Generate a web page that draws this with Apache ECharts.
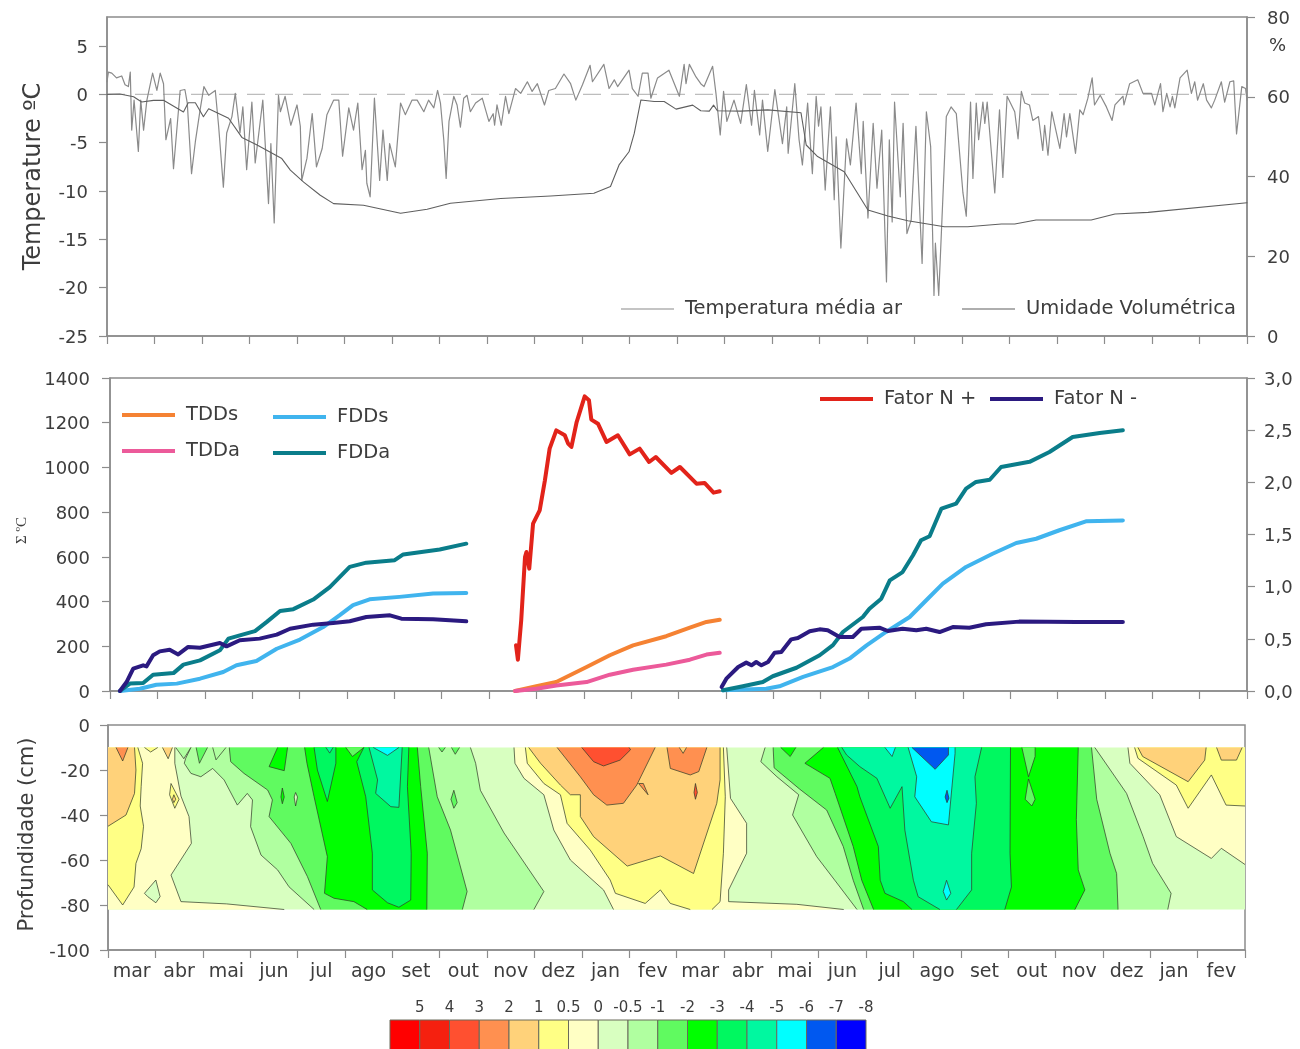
<!DOCTYPE html>
<html><head><meta charset="utf-8">
<script src="https://cdn.jsdelivr.net/npm/echarts@6/dist/echarts.min.js"></script>
<style>html,body{margin:0;padding:0;background:#fff;overflow:hidden}#c{width:1300px;height:1049px}</style>
</head><body><div id="c"></div>
<script>
const months=['mar','abr','mai','jun','jul','ago','set','out','nov','dez','jan','fev','mar','abr','mai','jun','jul','ago','set','out','nov','dez','jan','fev'];
// x of all series = months since start of record
const tempAr=[[0,1.3],[.03,2.3],[.1,2.2],[.2,1.7],[.31,1.9],[.38,1],[.45,.8],[.49,2.3],[.52,-3.7],[.57,-.6],[.66,-5.9],[.71,-.6],[.77,-3.7],[.84,-.6],[.96,2.2],[1.05,.4],[1.12,2.2],[1.19,1.1],[1.24,-4.7],[1.34,-2.5],[1.4,-7.7],[1.54,.4],[1.64,.5],[1.69,-.9],[1.78,-8.2],[1.86,-4.9],[1.96,-1.6],[2.04,.8],[2.14,-.1],[2.28,.4],[2.35,-3.3],[2.45,-9.6],[2.52,-4],[2.63,-2.3],[2.7,.1],[2.8,-4],[2.86,-1.3],[2.94,-7.8],[3.05,-.8],[3.12,-7.1],[3.28,-.6],[3.4,-11.3],[3.45,-5.1],[3.52,-13.3],[3.61,-.1],[3.65,-1.8],[3.75,-.2],[3.87,-3.2],[4,-1.1],[4.07,-3.3],[4.1,-8.9],[4.21,-6.6],[4.32,-2],[4.41,-7.5],[4.53,-5.6],[4.63,-2.1],[4.77,-.6],[4.88,-.6],[4.96,-6.4],[5.09,-1.4],[5.19,-3.7],[5.28,-.9],[5.37,-7.8],[5.44,-5.8],[5.47,-9.2],[5.54,-10.6],[5.63,-.4],[5.74,-8.9],[5.81,-3.7],[5.9,-8.9],[5.95,-5.1],[6.07,-7.5],[6.18,-.9],
[6.28,-2.1],[6.42,-.6],[6.53,-.6],[6.67,-1.8],[6.77,-.6],[6.88,-1.4],[6.96,.4],[7.02,-.9],[7.09,-4.7],[7.14,-8.7],[7.2,-2.8],[7.3,-.2],[7.37,-1.1],[7.44,-3.4],[7.51,-.4],[7.58,-.1],[7.65,-1.8],[7.76,-.9],[7.9,-.4],[8.04,-2.8],[8.13,-2],[8.16,-3.2],[8.21,-1.1],[8.3,-3.2],[8.39,-.2],[8.46,-2],[8.6,.6],[8.71,.1],[8.85,1.3],[8.95,.3],[9.06,1.1],[9.21,-1.1],[9.3,.4],[9.44,.6],[9.62,2.1],[9.76,1.1],[9.87,-.6],[10.01,1],[10.17,3],[10.22,1.3],[10.46,3.1],[10.57,.6],[10.68,1.5],[10.75,.8],[10.99,2.5],[11.06,.6],[11.18,-.2],[11.27,2.2],[11.39,2.2],[11.45,-.4],[11.59,1.7],[11.83,2.5],[12.05,-.2],[12.15,3.1],[12.19,1.1],[12.26,3.1],[12.4,1.8],[12.5,1.1],
[12.57,.8],[12.75,2.9],[12.82,.1],[12.91,-4.2],[12.98,.3],[13.05,-2.8],[13.2,-.6],[13.34,-3],[13.46,1],[13.57,-3.2],[13.63,.4],[13.74,-4.2],[13.8,-.6],[13.91,-5.9],[14.06,.5],[14.22,-5.1],[14.31,-1.3],[14.34,-6.1],[14.48,1.1],[14.57,-4.7],[14.64,-7.3],[14.75,-.9],[14.85,-8.2],[14.93,-.2],[14.98,-3.3],[15.03,-1.3],[15.12,-9.9],[15.23,-1.3],[15.31,-10.9],[15.35,-4.4],[15.45,-15.9],[15.57,-4.6],[15.65,-7.3],[15.77,-.9],[15.88,-8.2],[15.92,-2.8],[16.02,-12.8],[16.13,-3],[16.21,-9.7],[16.31,-3.7],[16.41,-19.4],[16.47,-4.7],[16.53,-13.2],[16.58,-.8],[16.7,-10.6],[16.76,-3],[16.84,-14.4],[16.93,-13],[17.03,-3.3],[17.16,-17.5],[17.25,-1.8],[17.34,-5.4],[17.41,-20.8],[17.44,-15.4],[17.51,-20.8],[17.67,-2.3],[17.77,-1.3],[17.88,-2],[18.02,-10.2],[18.09,-12.6],[18.18,-.8],[18.23,-8.7],[18.3,-.9],[18.35,-4.7],[18.44,-.8],[18.48,-3],[18.53,-.8],[18.69,-10.2],[18.79,-1.6],
[18.86,-8.6],[18.95,-.2],[19.11,-1.8],[19.18,-4.6],[19.25,.3],[19.32,-.9],[19.42,-1.1],[19.49,-2.7],[19.61,-2.3],[19.7,-5.8],[19.74,-3.2],[19.81,-6.3],[19.89,-1.8],[20.06,-5.6],[20.15,-2],[20.2,-4.4],[20.27,-2],[20.39,-6.1],[20.48,-1.6],[20.55,-2.1],[20.65,-.4],[20.74,1.7],[20.79,-1.1],[20.91,-.1],[21.04,-1.3],[21.16,-2.7],[21.22,-1.1],[21.39,-.2],[21.41,-1.1],[21.53,1.1],[21.7,1.5],[21.81,.1],[21.99,.1],[22.06,-1.1],[22.18,1.1],[22.23,-1.8],[22.31,.1],[22.38,-1.3],[22.43,-.2],[22.48,-1.4],[22.59,1.7],[22.74,2.5],[22.83,.1],[22.9,1.3],[22.96,-.6],[23.08,1.1],[23.15,-.6],[23.25,-1.4],[23.32,-.6],[23.46,1.3],[23.53,-.8],[23.64,1.3],[23.72,1.4],[23.78,-4.1],[23.89,.8],[23.97,.6],[24,-.6]];
const umidade=[[0,60.6],[.27,60.7],[.56,60],[.73,58.7],[.98,59.1],[1.19,59.1],[1.61,56.2],[1.71,58.5],[1.86,58.5],[2.03,55],[2.14,57],[2.56,54.6],[2.84,49.8],[3.16,47.9],[3.68,44.5],[3.86,41.6],[4.14,38.6],[4.49,35.3],[4.77,33.2],[5.4,32.8],[6.18,30.8],[6.74,31.8],[7.23,33.3],[8.29,34.5],[9.34,35.1],[10.25,35.8],[10.6,37.5],[10.78,42.9],[10.99,46.2],[11.1,50.8],[11.24,59.2],[11.52,58.8],[11.73,58.8],[11.98,56.9],[12.33,57.9],[12.5,56.5],[12.68,56.4],[12.77,57.9],[12.85,56.5],[13.34,56.4],[13.91,56.7],[14.61,56],[14.72,47.9],[14.96,45],[15.52,41.2],[16.02,31.6],[16.44,30.1],[16.86,28.9],[17.63,27.4],[18.12,27.4],[18.83,28.1],[19.11,28.1],[19.56,29.1],[20.72,29.1],[21.22,30.6],[21.92,31],[24,33.4]];
const zeroLine=[[0,0],[24,0]];

const fddaAno1=[[.21,0],[.42,33],[.7,36],[.91,73],[1.34,80],[1.55,118],[1.9,137],[2.32,182],[2.5,234],[2.74,249],[3.06,268],[3.31,309],[3.59,358],[3.87,366],[4.29,409],[4.64,465],[5.06,555],[5.41,574],[6.01,585],[6.19,611],[6.96,633],[7.52,659]];
const fddsAno1=[[.21,0],[.63,10],[.98,28],[1.41,33],[1.9,55],[2.39,85],[2.67,115],[3.09,134],[3.52,189],[4.01,230],[4.5,286],[4.85,339],[5.13,384],[5.48,410],[6.11,421],[6.82,436],[7.52,438]];
const fatorNegAno1=[[.21,0],[.35,.086],[.49,.214],[.7,.246],[.77,.236],[.91,.342],[1.05,.38],[1.26,.396],[1.44,.351],[1.65,.422],[1.9,.415],[2.32,.46],[2.46,.428],[2.74,.486],[3.16,.502],[3.52,.54],[3.8,.597],[4.29,.636],[4.71,.652],[5.06,.668],[5.41,.709],[5.91,.725],[6.15,.693],[6.82,.687],[7.52,.668]];
const fatorPos=[[8.57,.438],[8.61,.3],[8.65,.518],[8.68,.677],[8.76,1.284],[8.79,1.332],[8.85,1.173],[8.93,1.604],[9.07,1.732],[9.18,2.019],[9.28,2.323],[9.42,2.498],[9.6,2.451],[9.67,2.371],[9.74,2.339],[9.85,2.578],[10.02,2.824],[10.11,2.786],[10.16,2.601],[10.3,2.562],[10.48,2.387],[10.72,2.451],[10.97,2.268],[11.18,2.323],[11.38,2.195],[11.52,2.243],[11.85,2.09],[12.03,2.147],[12.38,1.987],[12.55,1.994],[12.74,1.901],[12.87,1.914]];
const tdds=[[8.55,0],[9,21],[9.42,40],[10.06,107],[10.55,160],[11.04,204],[11.74,245],[12.24,283],[12.59,309],[12.87,319]];
const tdda=[[8.55,0],[9,10],[9.42,25],[10.06,40],[10.55,73],[11.04,95],[11.74,118],[12.24,140],[12.59,163],[12.87,171]];
const fddaAno2=[[12.94,3],[13.36,21],[13.78,40],[13.99,66],[14.49,104],[14.98,160],[15.26,205],[15.47,264],[15.89,331],[16.03,368],[16.28,413],[16.46,495],[16.73,532],[16.95,607],[17.12,674],[17.3,692],[17.55,816],[17.86,838],[18.07,905],[18.28,935],[18.57,945],[18.81,1002],[19.41,1025],[19.83,1069],[20.32,1136],[20.89,1154],[21.38,1166]];
const fddsAno2=[[12.94,3],[13.85,10],[14.13,21],[14.63,63],[15.26,107],[15.61,145],[15.97,204],[16.38,264],[16.88,331],[17.23,406],[17.58,480],[18.07,555],[18.63,614],[19.13,662],[19.55,681],[20.04,719],[20.6,759],[21.38,763]];
const fatorNegAno2=[[12.91,.038],[13.01,.118],[13.26,.23],[13.43,.272],[13.54,.246],[13.64,.278],[13.75,.246],[13.89,.278],[14.03,.367],[14.17,.374],[14.38,.495],[14.52,.508],[14.77,.572],[14.98,.591],[15.15,.582],[15.4,.518],[15.68,.518],[15.86,.597],[16.24,.607],[16.42,.575],[16.73,.597],[17.02,.582],[17.23,.597],[17.51,.565],[17.79,.613],[18.14,.607],[18.49,.639],[19.19,.665],[20.39,.661],[21.38,.661]];

const scaleLabels=['5','4','3','2','1','0.5','0','-0.5','-1','-2','-3','-4','-5','-6','-7','-8'];
const scaleColors=['#ff0000','#f5200f','#ff5030','#ff9050','#ffd27a','#ffff85','#ffffc4','#d8ffc0','#b0ffa0','#60fa60','#00ff00','#00f860','#00f8a0','#00ffff','#0058f0','#0000ff'];

// contour regions: [month, depth] outlines; depth band of the data is -10 .. -82
const fundo=[[0,-10],[24,-10],[24,-82],[0,-82]];
const p1Gt0=[[0,-10],[1.41,-10],[1.41,-17],[1.54,-31.6],[1.71,-40.7],[1.76,-52.6],[1.33,-66.7],[1.54,-78.5],[2.5,-79.5],[3.72,-82],[0,-82]];
const p1Gt05=[[0,-10],[.63,-10],[.73,-17],[.7,-27.4],[.68,-36],[.75,-45],[.7,-55],[.59,-61.5],[.55,-72],[.31,-80],[0,-71]];
const p1Gt1=[[0,-10],[.56,-10],[.59,-20],[.56,-30.4],[.38,-40],[0,-45]];
const p1Gt2=[[.17,-10],[.31,-16],[.42,-10]];
const p1Ilha=[[.77,-74.8],[1.01,-68.9],[1.1,-76.3],[1.01,-79],[.84,-76.3]];
const p1Diam=[[1.33,-26],[1.5,-33],[1.41,-37],[1.3,-31]];
const p1Diam2=[[1.39,-31],[1.43,-33],[1.39,-34.5],[1.36,-33]];
const p1Topo1=[[.77,-10],[.9,-12],[1.05,-10]];
const p1Topo2=[[1.15,-10],[1.27,-15],[1.36,-10]];
const p1Topo3=[[1.43,-10],[1.6,-15],[1.75,-10]];
const w1Lt05=[[1.75,-10],[1.64,-14.8],[1.61,-17],[1.75,-21.5],[1.96,-23],[2.21,-19.3],[2.45,-24.4],[2.73,-35.6],[2.94,-30.4],[3.05,-33.3],[3.01,-45.2],[3.23,-57.8],[3.58,-64.4],[3.82,-71.9],[4.35,-82],[8.99,-82],[9.2,-74],[8.36,-48],[7.86,-29],[7.76,-17],[7.65,-10]];
const w1Lt1=[[2.56,-10],[2.59,-16.3],[2.87,-21.5],[3.37,-28.9],[3.47,-33.3],[3.4,-40.7],[3.86,-52.6],[4.21,-67.4],[4.49,-82],[7.48,-82],[7.58,-74],[7.23,-46.7],[6.95,-31.9],[6.77,-10]];
const w1Bolha1=[[1.86,-10],[1.93,-17],[2.1,-10]];
const w1Bolha2=[[2.21,-10],[2.28,-15.5],[2.49,-10]];
const w1Bolha3=[[3.58,-10],[3.4,-18.5],[3.72,-20.3],[3.79,-10]];
const w1Bolha4=[[7.3,-29],[7.37,-34.5],[7.3,-37],[7.24,-33]];
const w1Bolha5=[[7.25,-10],[7.33,-13],[7.42,-10]];
const w1Bolha6=[[6.98,-10],[7.05,-12],[7.12,-10]];
const w1Ponto1=[[3.68,-28],[3.72,-32],[3.68,-35],[3.65,-32]];
const w1Ponto2=[[3.96,-30],[4,-32],[3.96,-36],[3.93,-32]];
const w1Lt2=[[4.15,-10],[4.2,-17],[4.35,-31.9],[4.63,-58.5],[4.57,-74.8],[4.77,-77],[5.19,-78.5],[5.47,-82],[6.73,-82],[6.74,-57],[6.6,-27.4],[6.53,-10]];
const w1Lt3a=[[4.35,-10],[4.42,-20],[4.63,-34],[4.81,-17],[4.81,-10]];
const w1Lt3b=[[5.4,-10],[5.25,-16.3],[5.44,-31.9],[5.58,-57],[5.58,-73.3],[5.9,-79],[6.14,-81],[6.39,-77.8],[6.4,-57],[6.32,-27.4],[6.35,-10]];
const w1Lt4a=[[4.6,-10],[4.68,-12.5],[4.75,-10]];
const w1Lt3c=[[5.02,-10],[5.16,-14],[5.4,-10]];
const w1Lt4b=[[5.51,-10],[5.69,-24.4],[5.65,-30.4],[5.97,-36.3],[6.14,-36.6],[6.21,-10]];
const w1Lt5=[[5.6,-10],[5.9,-13.5],[6.14,-10]];
const s1Gt0=[[8.57,-10],[8.59,-17],[8.78,-23.7],[9.2,-31],[9.41,-46.7],[9.76,-60],[10.46,-73.3],[10.67,-82],[15.53,-82],[14.54,-79.7],[13.1,-78.5],[13.1,-73.3],[13.48,-57],[13.48,-43.7],[13.14,-32.6],[13.06,-10]];
const s1Gt05=[[8.81,-10],[8.85,-17],[9.2,-26],[9.55,-31],[9.69,-43.7],[10.18,-55.6],[10.6,-68.9],[10.71,-74.8],[11.34,-79.3],[11.66,-73.3],[11.87,-79.3],[12.29,-82],[12.75,-82],[12.92,-78.5],[12.99,-57],[13.03,-31.9],[12.99,-10]];
const s1Gt1=[[8.88,-10],[9.13,-17],[9.55,-26.7],[9.76,-31],[9.97,-31],[9.97,-40.7],[10.25,-49.6],[10.96,-62.7],[11.66,-58.2],[12.36,-66],[12.85,-34.8],[12.92,-24.4],[12.92,-10]];
const s1Gt2a=[[9.48,-10],[9.97,-23],[10.25,-31],[10.53,-35.6],[10.88,-34.8],[11.16,-26.7],[11.55,-10]];
const s1Gt2b=[[11.8,-10],[11.87,-19.3],[12.29,-22.2],[12.47,-20.7],[12.64,-10]];
const s1Gt1b=[[12.06,-10],[12.14,-12.6],[12.21,-10]];
const s1Cauda=[[11.2,-26],[11.4,-31],[11.3,-26]];
const s1Traco=[[12.4,-26],[12.44,-30],[12.4,-33],[12.37,-30]];
const s1Gt3=[[10,-10],[10.25,-16.3],[10.46,-18.2],[10.81,-15.6],[11.03,-11],[11,-10]];
const w2Lt05=[[13.87,-10],[13.78,-16.3],[14.12,-23],[14.58,-31],[14.45,-40],[14.96,-58.5],[15.45,-72],[15.81,-82],[22.37,-82],[22.44,-74.8],[22.05,-61.5],[21.85,-49.6],[21.5,-30.4],[20.83,-10]];
const w2Lt1=[[14.04,-10],[14.06,-19],[14.6,-28.5],[15.17,-37.8],[15.52,-54],[15.73,-69],[15.95,-82],[21.32,-82],[21.29,-66],[21.15,-57],[20.87,-33],[20.76,-10]];
const w2Bolha=[[14.2,-10],[14.4,-14],[14.52,-10]];
const w2Lt2=[[15.1,-10],[14.71,-17],[15.24,-23.7],[15.35,-30.4],[15.73,-54],[15.91,-69],[16.16,-82],[20.41,-82],[20.62,-73.3],[20.48,-64.4],[20.44,-42],[20.48,-10]];
const w2Claro1=[[19.29,-10],[19.43,-23],[19.57,-14],[19.57,-10]];
const w2Claro2=[[19.43,-24],[19.57,-33],[19.5,-36],[19.36,-33]];
const w2Lt3=[[15.4,-10],[15.81,-27.4],[15.87,-31.9],[16.26,-54],[16.3,-69],[16.4,-74.8],[16.79,-78.5],[16.97,-82],[18.93,-82],[19.07,-72],[19.04,-57],[19.05,-10]];
const w2Lt4=[[15.49,-10],[15.59,-13.3],[15.87,-18.5],[16.23,-23.7],[16.51,-37],[16.76,-27.4],[16.82,-46.7],[17,-69],[17.1,-76.3],[17.56,-82],[17.91,-82],[18.23,-73.3],[18.23,-57],[18.33,-34.8],[18.3,-23],[18.44,-10]];
const w2Lt5a=[[16.89,-10],[17.07,-23],[17.03,-31.9],[17.38,-43],[17.74,-44.4],[17.88,-12.6],[17.88,-10]];
const w2Lt5b=[[16.4,-10],[16.55,-14],[16.62,-10]];
const w2Lt5c=[[17.7,-69],[17.79,-74.8],[17.7,-77.8],[17.63,-74]];
const w2Lt6=[[16.97,-10],[17.46,-19.7],[17.74,-13.3],[17.74,-10]];
const w2Ponto=[[17.71,-29],[17.75,-32.5],[17.71,-34.5],[17.67,-32]];
const s2Gt0=[[21.53,-10],[21.57,-17],[22.2,-31],[22.55,-49.6],[23.29,-59.3],[23.5,-54.8],[24,-62],[24,-10]];
const s2Gt05=[[21.67,-10],[21.74,-14.8],[22.55,-26.7],[22.8,-37],[23.29,-22.2],[23.6,-35.6],[24,-36],[24,-10]];
const s2Gt1a=[[21.74,-10],[21.84,-14],[22.8,-25.2],[23.15,-15.6],[23.18,-10]];
const s2Gt1b=[[23.4,-10],[23.5,-15.6],[23.82,-15.6],[23.94,-10]];
// [colour-scale class, region], painted in order, outer regions first
const contourBands=[[7,fundo],[6,p1Gt0],[5,p1Gt05],[4,p1Gt1],[3,p1Gt2],[7,p1Ilha],[5,p1Diam],[4,p1Diam2],[5,p1Topo1],[4,p1Topo2],[8,p1Topo3],
[8,w1Lt05],[9,w1Lt1],[9,w1Bolha1],[8,w1Bolha2],[10,w1Bolha3],[9,w1Bolha4],[9,w1Bolha5],[9,w1Bolha6],[10,w1Ponto1],[7,w1Ponto2],[10,w1Lt2],[11,w1Lt3a],[11,w1Lt3b],[12,w1Lt4a],[9,w1Lt3c],[12,w1Lt4b],[13,w1Lt5],
[6,s1Gt0],[5,s1Gt05],[4,s1Gt1],[3,s1Gt2a],[3,s1Gt2b],[4,s1Gt1b],[3,s1Cauda],[2,s1Traco],[2,s1Gt3],
[8,w2Lt05],[9,w2Lt1],[10,w2Bolha],[10,w2Lt2],[9,w2Claro1],[9,w2Claro2],[11,w2Lt3],[12,w2Lt4],[13,w2Lt5a],[13,w2Lt5b],[13,w2Lt5c],[14,w2Lt6],[14,w2Ponto],
[6,s2Gt0],[5,s2Gt05],[4,s2Gt1a],[4,s2Gt1b]];

const FONT='"DejaVu Sans",sans-serif', TXT='#3d3d3d', AX='#8c8c8c';
const onEdge=(a,b)=>(a[1]===b[1]&&(a[1]===-10||a[1]===-82))||(a[0]===b[0]&&(a[0]===0||a[0]===24));
function renderBand(params,api){
  const [level,pts]=contourBands[params.dataIndex];
  const children=[{type:'polygon',shape:{points:pts.map(p=>api.coord(p))},style:{fill:scaleColors[level],stroke:null},silent:true}];
  let run=[];
  const closed=pts.concat([pts[0]]);
  for(let i=0;i<closed.length;i++){
    if(i>0&&onEdge(closed[i-1],closed[i])){ if(run.length>1)children.push(mkLine(run,api)); run=[]; }
    run.push(closed[i]);
  }
  if(run.length>1)children.push(mkLine(run,api));
  return {type:'group',children};
}
function mkLine(run,api){return {type:'polyline',shape:{points:run.map(p=>api.coord(p))},style:{fill:null,stroke:'rgba(50,60,40,.72)',lineWidth:1},silent:true};}

const axLine={show:true,onZero:false,lineStyle:{color:AX,width:1.5}};
const tick={show:true,length:8,lineStyle:{color:AX,width:1.2}};
const fmt=f=>({formatter:v=>'{v|'+f(v)+'}',rich:{v:{color:TXT,fontFamily:FONT,fontSize:18,padding:[4,0,0,0]}}});
function catAxis(g,showLabel){return {type:'category',gridIndex:g,data:months,boundaryGap:true,axisLine:axLine,axisTick:Object.assign({alignWithLabel:false},tick),axisLabel:{show:showLabel,interval:0,margin:13,color:TXT,fontFamily:FONT,fontSize:19},splitLine:{show:false}};}
function valX(g){return {type:'value',gridIndex:g,min:0,max:24,show:false,splitLine:{show:false}};}
function line(name,data,x,y,color,w){return {type:'line',name,data,xAxisIndex:x,yAxisIndex:y,showSymbol:false,symbol:'none',smooth:false,sampling:null,silent:true,animation:false,itemStyle:{color},lineStyle:{color,width:w,join:'round',cap:'round'},z:3};}
function leg(name,left,top,h){return {data:[{name,icon:'rect'}],left,top,orient:'horizontal',selectedMode:false,itemWidth:53,itemHeight:h,textStyle:{color:TXT,fontFamily:FONT,fontSize:19.5,padding:[0,0,0,6]}};}
const LBAR=390, WCELL=29.75;
const scaleGraphics=[];
scaleColors.forEach((c,i)=>{
  scaleGraphics.push({type:'rect',shape:{x:LBAR+i*WCELL,y:1020,width:WCELL,height:40},style:{fill:c,stroke:'#6a6a5a',lineWidth:1},silent:true});
  scaleGraphics.push({type:'text',x:LBAR+(i+1)*WCELL,y:1008,style:{text:scaleLabels[i],fill:TXT,font:'15px '+FONT,textAlign:'center',textVerticalAlign:'middle'},silent:true});
});
const plain=v=>String(v);

const option={animation:false,backgroundColor:'#fff',
 grid:[
  {left:107,right:53,top:17,height:319,show:true,borderColor:AX,borderWidth:1.5},
  {left:110,right:53,top:378,height:313,show:true,borderColor:AX,borderWidth:1.5},
  {left:108,right:55,top:725,height:225,show:true,borderColor:AX,borderWidth:1.5}],
 xAxis:[catAxis(0,false),valX(0),catAxis(1,false),valX(1),catAxis(2,true),valX(2)],
 yAxis:[
  {type:'value',gridIndex:0,min:-25,max:8,interval:5,position:'left',name:'Temperature ºC',nameLocation:'middle',nameGap:61,nameTextStyle:{color:TXT,fontFamily:FONT,fontSize:24},axisLine:axLine,axisTick:tick,axisLabel:Object.assign({margin:19,showMaxLabel:false},fmt(plain)),splitLine:{show:false}},
  {type:'value',gridIndex:0,min:0,max:80,interval:20,position:'right',axisLine:axLine,axisTick:tick,axisLabel:Object.assign({margin:20},fmt(plain)),splitLine:{show:false}},
  {type:'value',gridIndex:1,min:0,max:1400,interval:200,position:'left',name:'Σ ºC',nameLocation:'middle',nameGap:80,nameTextStyle:{color:TXT,fontFamily:'"Liberation Serif",serif',fontSize:15,padding:[0,0,0,8]},axisLine:axLine,axisTick:tick,axisLabel:Object.assign({margin:20},fmt(plain)),splitLine:{show:false}},
  {type:'value',gridIndex:1,min:0,max:3,interval:.5,position:'right',axisLine:axLine,axisTick:tick,axisLabel:Object.assign({margin:17},fmt(v=>v.toFixed(1).replace('.',','))),splitLine:{show:false}},
  {type:'value',gridIndex:2,min:-100,max:0,interval:20,position:'left',name:'Profundidade (cm)',nameLocation:'middle',nameGap:62,nameTextStyle:{color:TXT,fontFamily:FONT,fontSize:21,padding:[0,0,0,6]},axisLine:axLine,axisTick:tick,axisLabel:Object.assign({margin:18},fmt(plain)),splitLine:{show:false}}],
 legend:[
  leg('Temperatura média ar',616,294,1),leg('Umidade Volumétrica',957,294,1),
  leg('TDDs',117,400,4),leg('TDDa',117,436,4),leg('FDDs',268,402,4),leg('FDDa',268,438,4),
  leg('Fator N +',815,384,4),leg('Fator N -',985,384,4)],
 series:[
  line('Zero',zeroLine,1,0,'#bdbdbd',1.4),
  line('Temperatura média ar',tempAr,1,0,'#8a8a8a',1.2),
  line('Umidade Volumétrica',umidade,1,1,'#5f5f5f',1.1),
  line('FDDs',fddsAno1,3,2,'#40b4ee',4),line('FDDa',fddaAno1,3,2,'#0a7d8a',4),line('Fator N -',fatorNegAno1,3,3,'#2b1a80',4),
  line('TDDs',tdds,3,2,'#f58233',4),line('TDDa',tdda,3,2,'#ec5a9a',4),line('Fator N +',fatorPos,3,3,'#e2231a',4),
  line('FDDs',fddsAno2,3,2,'#40b4ee',4),line('FDDa',fddaAno2,3,2,'#0a7d8a',4),line('Fator N -',fatorNegAno2,3,3,'#2b1a80',4),
  {type:'custom',name:'Temperatura do solo',xAxisIndex:5,yAxisIndex:4,silent:true,animation:false,renderItem:renderBand,encode:{x:0,y:1},
   data:contourBands.map(b=>[b[1][0][0],b[1][0][1]]),z:2}],
 graphic:[{type:'text',x:1269,y:46,style:{text:'%',fill:TXT,font:'18px '+FONT,textVerticalAlign:'middle'},silent:true},
  {type:'group',children:scaleGraphics}]
};
Object.assign(option.series[0].lineStyle,{type:[18,10],cap:'butt'});
option.series[0].z=2;
const chart=echarts.init(document.getElementById('c'),null,{renderer:'canvas'});
chart.setOption(option);
</script></body></html>
